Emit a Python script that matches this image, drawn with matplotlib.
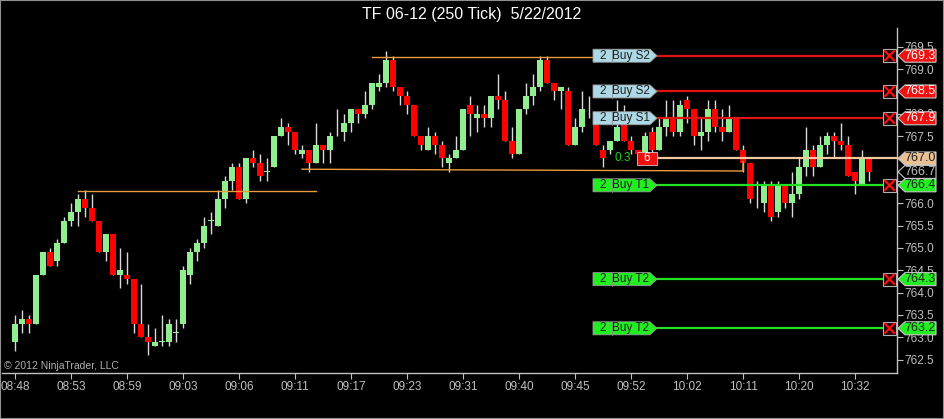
import matplotlib
matplotlib.use("Agg")
import matplotlib.pyplot as plt
from matplotlib.patches import Polygon, Rectangle
import numpy as np

plt.rcParams['font.family'] = ['Liberation Sans', 'DejaVu Sans']

# candles (250 tick bars)
opens = [762.9, 763.3, 763.4, 763.3, 764.4, 764.9, 764.7, 765.1, 765.6, 765.8,
         766.1, 765.9, 765.6, 764.9, 765.3, 764.4, 764.4, 764.3, 763.3, 763.0,
         762.8, 762.9, 762.9, 763.1, 763.3, 764.4, 764.9, 765.1, 765.6, 765.5,
         766.1, 766.5, 766.8, 766.1, 767.0, 766.9, 766.7, 766.8, 767.5, 767.7,
         767.6, 767.1, 767.2, 766.9, 767.3, 767.2, 767.7, 767.6, 767.8, 768.1,
         768.0, 768.2, 768.6, 768.7, 769.2, 768.6, 768.4, 768.2, 767.5, 767.2,
         767.5, 767.3, 766.9, 767.0, 767.2, 768.2, 767.9, 768.0, 767.9, 768.4,
         768.3, 767.4, 767.1, 768.1, 768.4, 768.6, 769.2, 768.7, 768.5, 768.5,
         767.3, 767.7, 768.1, 767.8, 767.2, 767.2, 767.4, 768.0, 767.4, 767.2,
         767.1, 767.6, 767.2, 767.7, 767.9, 767.6, 768.3, 768.1, 767.5, 767.6,
         768.1, 767.7, 767.6, 767.9, 767.2, 766.9, 766.2, 766.0, 766.4, 765.8,
         766.4, 766.0, 766.2, 766.8, 767.2, 766.8, 767.3, 767.5, 767.4, 767.3,
         766.7, 766.4, 767.0]
highs = [763.5, 763.6, 763.5, 764.4, 764.9, 765.0, 765.2, 765.7, 766.0, 766.2,
         766.3, 766.2, 765.6, 765.3, 765.3, 765.0, 764.9, 764.3, 764.2, 763.3,
         763.2, 763.5, 763.4, 763.4, 764.6, 765.0, 765.2, 765.7, 765.8, 766.3,
         766.6, 766.9, 766.9, 767.0, 767.2, 767.1, 767.0, 767.5, 767.9, 767.8,
         767.6, 767.3, 767.2, 767.8, 767.3, 767.6, 768.1, 768.0, 768.1, 768.1,
         768.5, 768.7, 768.9, 769.4, 769.3, 768.6, 768.5, 768.2, 767.5, 767.7,
         767.6, 767.4, 767.1, 767.5, 768.1, 768.4, 768.2, 768.2, 768.4, 768.9,
         768.5, 767.7, 768.1, 768.7, 768.9, 769.3, 769.3, 768.7, 768.6, 768.6,
         767.9, 768.5, 768.4, 767.8, 767.3, 767.4, 768.3, 768.2, 767.5, 767.2,
         767.6, 767.7, 767.9, 768.3, 768.3, 768.3, 768.4, 768.1, 767.9, 768.3,
         768.3, 768.1, 768.2, 767.9, 767.3, 766.9, 766.5, 766.5, 766.5, 766.5,
         766.4, 766.7, 767.0, 767.7, 767.3, 767.5, 767.6, 767.6, 767.8, 767.5,
         766.7, 767.2, 767.0]
lows = [762.7, 763.1, 763.1, 763.3, 764.4, 764.6, 764.6, 765.1, 765.5, 765.5,
        765.7, 765.6, 764.9, 764.7, 764.4, 764.1, 764.2, 763.1, 763.0, 762.6,
        762.8, 762.8, 762.8, 762.9, 763.2, 764.2, 764.7, 765.0, 765.3, 765.5,
        765.9, 766.3, 766.1, 766.0, 766.8, 766.5, 766.5, 766.8, 767.5, 767.3,
        767.1, 767.0, 766.7, 766.9, 766.9, 766.9, 767.5, 767.4, 767.6, 767.8,
        767.9, 768.1, 768.5, 768.6, 768.5, 768.2, 768.0, 767.5, 767.2, 767.2,
        767.1, 766.8, 766.7, 767.0, 767.2, 767.5, 767.6, 767.7, 767.7, 768.1,
        767.4, 767.0, 767.1, 768.0, 768.2, 768.5, 768.7, 768.3, 768.1, 767.3,
        767.3, 767.6, 767.9, 767.3, 766.8, 767.1, 767.4, 767.4, 767.1, 767.1,
        767.1, 767.1, 767.2, 767.5, 767.5, 767.5, 767.8, 767.3, 767.2, 767.4,
        767.6, 767.4, 767.6, 767.2, 766.7, 766.0, 765.9, 765.8, 765.6, 765.7,
        765.9, 765.7, 766.1, 766.6, 766.6, 766.8, 767.1, 767.0, 767.2, 766.6,
        766.2, 766.4, 766.5]
closes = [763.3, 763.4, 763.3, 764.4, 764.9, 764.6, 765.1, 765.6, 765.8, 766.1,
          765.9, 765.6, 764.9, 765.3, 764.4, 764.5, 764.3, 763.3, 763.0, 762.9,
          762.9, 762.9, 763.3, 763.1, 764.5, 764.9, 765.1, 765.5, 765.6, 766.1,
          766.5, 766.8, 766.1, 767.0, 766.9, 766.6, 766.7, 767.5, 767.7, 767.6,
          767.2, 767.2, 766.9, 767.3, 767.2, 767.5, 767.7, 767.8, 768.1, 768.0,
          768.2, 768.7, 768.7, 769.2, 768.6, 768.4, 768.2, 767.5, 767.3, 767.5,
          767.3, 767.0, 767.0, 767.2, 768.1, 768.0, 768.0, 767.9, 768.4, 768.3,
          767.4, 767.1, 768.1, 768.4, 768.6, 769.2, 768.7, 768.5, 768.6, 767.3,
          767.7, 768.1, 768.1, 767.3, 767.0, 767.4, 767.7, 767.4, 767.2, 767.1,
          767.5, 767.2, 767.7, 767.9, 767.6, 768.2, 768.1, 767.5, 767.6, 768.1,
          767.7, 767.6, 767.9, 767.2, 766.9, 766.1, 766.2, 766.4, 765.7, 766.4,
          766.0, 766.2, 766.8, 767.2, 766.8, 767.3, 767.5, 767.4, 767.3, 766.6,
          766.5, 767.0, 766.7]

time_labels = ['08:48', '08:53', '08:59', '09:03', '09:06', '09:11', '09:17', '09:23',
               '09:31', '09:40', '09:45', '09:52', '10:02', '10:11', '10:20', '10:32']
label_every = 8

# working orders
order_qty = [2, 2, 2, 2, 2, 2]
order_names = ['Buy S2', 'Buy S2', 'Buy S1', 'Buy T1', 'Buy T2', 'Buy T2']
order_prices = [769.3, 768.5, 767.9, 766.4, 764.3, 763.2]

# position
pos_qty = 6
pos_avg = 767.0
pos_pnl = 0.3
last_price = 766.7

# hand drawn lines: (bar, price) points
drawn_lines = [
    [(9, 766.28), (43, 766.28)],
    [(51, 769.28), (83, 769.28)],
    [(41, 766.76), (104, 766.72), (104, 766.93)],
]

W, H = 944, 419
L, R, T, B = 2, 897, 28, 373
fig = plt.figure(figsize=(W / 100, H / 100), dpi=100, facecolor='black')
ax = fig.add_axes([L / W, 1 - B / H, (R - L) / W, (B - T) / H], facecolor='black')

idx = np.arange(len(opens))
o = np.array(opens); c = np.array(closes)
up = c >= o
ax.vlines(idx, lows, highs, color='#d8d8d8', lw=1, zorder=2)
body_h = np.maximum(np.abs(c - o), 0.015)
ax.bar(idx, body_h, bottom=np.minimum(o, c), width=0.72,
       color=np.where(up, '#90ee90', '#ff0000'), edgecolor='none', zorder=3)

ax.set_xlim((L - 15) / 7, (R - 15) / 7)
ax.set_ylim(762.2, 769.92)

ymin, ymax = ax.get_ylim()
hh = 6.5 * (ymax - ymin) / (B - T)   # half height of a flag, in price units
fx = lambda px: (px - L) / (R - L)
tr = ax.get_yaxis_transform()

for pts in drawn_lines:
    xs, ys = zip(*pts)
    ax.plot(xs, ys, color='#e89a3c', lw=1, zorder=4)

# order lines and flags
for q, name, p in zip(order_qty, order_names, order_prices):
    stop = name.startswith('Buy S')
    col = '#e01414' if stop else '#22e022'
    flag = '#add8e6' if stop else '#22ee22'
    ax.plot([fx(657), fx(883)], [p, p], color=col, lw=1.6, transform=tr, zorder=5, clip_on=False)
    ax.add_patch(Polygon([(fx(593), p - hh), (fx(650), p - hh), (fx(657), p),
                          (fx(650), p + hh), (fx(593), p + hh)],
                         closed=True, transform=tr, fc=flag, ec='#9a9a9a', lw=0.6,
                         zorder=6, clip_on=False))
    ax.plot([fx(612), fx(612)], [p - hh, p + hh], color='#8a8a8a', lw=0.6,
            transform=tr, zorder=7, clip_on=False)
    ax.text(fx(602.5), p, str(q), transform=tr, ha='center', va='center',
            fontsize=8.5, color='#202020', zorder=8, clip_on=False)
    ax.text(fx(631), p, name, transform=tr, ha='center', va='center',
            fontsize=8.5, color='#202020', zorder=8, clip_on=False)
    # cancel box
    ax.add_patch(Rectangle((fx(883), p - hh), fx(896) - fx(883), 2 * hh, transform=tr,
                           fc='#200000', ec='#b0b0b0', lw=0.8, zorder=6, clip_on=False))
    ax.plot([fx(885), fx(894)], [p - hh * 0.7, p + hh * 0.7], color='#ff1010', lw=1.5,
            transform=tr, zorder=7, clip_on=False)
    ax.plot([fx(885), fx(894)], [p + hh * 0.7, p - hh * 0.7], color='#ff1010', lw=1.5,
            transform=tr, zorder=7, clip_on=False)


def price_flag(p, txt, fc, tc):
    ax.add_patch(Polygon([(fx(898), p), (fx(905), p + hh), (fx(936), p + hh),
                          (fx(936), p - hh), (fx(905), p - hh)],
                         closed=True, transform=tr, fc=fc, ec='#c8c8c8', lw=0.8,
                         zorder=6, clip_on=False))
    ax.text(fx(920), p, txt, transform=tr, ha='center', va='center', fontsize=9,
            color=tc, zorder=8, clip_on=False)


for name, p in zip(order_names, order_prices):
    if name.startswith('Buy S'):
        price_flag(p, f'{p:.1f}', '#f01010', 'white')
    else:
        price_flag(p, f'{p:.1f}', '#22ee22', '#202020')

# position line
ax.plot([fx(657), fx(897)], [pos_avg, pos_avg], color='#f5c8a0', lw=1.6, transform=tr,
        zorder=5, clip_on=False)
ax.text(fx(623), pos_avg, f'{pos_pnl:.1f}', transform=tr, ha='center', va='center',
        fontsize=8.5, color='#22cc22', zorder=8)
ax.add_patch(Rectangle((fx(637), pos_avg - hh), fx(657) - fx(637), 2 * hh, transform=tr,
                       fc='#f01010', ec='#c8c8c8', lw=0.6, zorder=6))
ax.text(fx(647), pos_avg, str(pos_qty), transform=tr, ha='center', va='center',
        fontsize=8.5, color='white', zorder=8)
price_flag(pos_avg, f'{pos_avg:.1f}', '#e8c094', '#202020')
price_flag(last_price, f'{last_price:.1f}', 'black', '#c0c0c0')

# axes styling
ax.yaxis.tick_right()
ax.set_yticks(np.arange(762.5, 769.6, 0.5))
ax.yaxis.set_major_formatter(plt.FormatStrFormatter('%.1f'))
ax.set_xticks(idx[::label_every][:len(time_labels)])
ax.set_xticklabels(time_labels)
ax.tick_params(colors='#c0c0c0', labelsize=8.5, length=4, width=0.8)
ax.tick_params(axis='y', pad=1)
ax.tick_params(axis='x', pad=2)
for s in ['top', 'left']:
    ax.spines[s].set_visible(False)
for s in ['right', 'bottom']:
    ax.spines[s].set_color('#c0c0c0')
    ax.spines[s].set_linewidth(1)

ax.text(0.002, 0.005, '\u00a9 2012 NinjaTrader, LLC', transform=ax.transAxes,
        fontsize=7.5, color='#b0b0b0', ha='left', va='bottom')
fig.text(0.5, 1 - 14 / H, 'TF 06-12 (250 Tick)  5/22/2012', ha='center', va='center',
         fontsize=11.5, color='white')
fig.add_artist(Rectangle((0, 0), 1, 1, transform=fig.transFigure, fill=False,
                         ec='#909090', lw=1.5))

fig.savefig('out.png', dpi=100, facecolor='black')
